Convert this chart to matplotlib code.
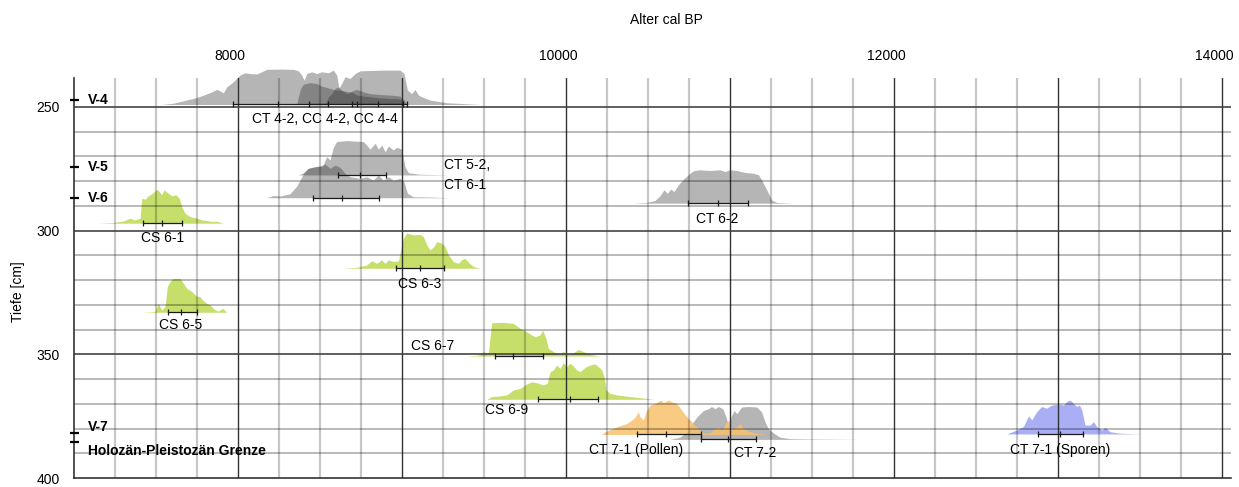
import numpy as np
import matplotlib
matplotlib.use("Agg")
import matplotlib.pyplot as plt
from matplotlib.transforms import ScaledTranslation

plt.rcParams['font.family'] = ['Liberation Sans', 'DejaVu Sans']

# ---- data: calibrated age distributions (age cal BP, relative height in cm) ----
ct42_age = [7535, 7606, 7667, 7748, 7799, 7840, 7870, 7890, 7911, 7931, 7972, 8012, 8043, 8073,
            8114, 8144, 8175, 8256, 8337, 8368, 8388, 8403, 8419, 8449, 8480, 8510, 8551, 8581,
            8602, 8616, 8632, 8653, 8683, 8714, 8744, 8886, 8988, 9012, 9033, 9059, 9079, 9100,
            9130, 9171, 9273, 9476]
ct42_h = [0, 0.5, 1.5, 2.8, 4.0, 5.1, 6.1, 5.5, 4.7, 7.1, 9.2, 11.9, 12.8, 12.5,
          12.3, 13.2, 14.2, 14.3, 14.2, 13.6, 11.9, 9.8, 12.5, 13.2, 12.5, 13.2, 12.8, 13.9,
          11.9, 6.5, 8.5, 11.2, 10.5, 12.5, 13.6, 13.9, 13.9, 12.5, 5.8, 4.4, 6.1, 3.8,
          2.8, 1.8, 0.7, 0]
cc42_age = [8358, 8368, 8382, 8399, 8439, 8480, 8510, 8541, 8581, 8642, 8683, 8724, 8764, 8805,
            8866, 8927, 8988, 9012, 9029]
cc42_h = [0, 3.1, 6.5, 8.2, 8.8, 8.5, 7.4, 6.9, 6.1, 5.5, 5.1, 6.1, 5.1, 4.4,
          4.0, 3.8, 3.4, 2.0, 0]
cc44_age = [8531, 8551, 8571, 8592, 8612, 8632, 8663, 8693, 8724, 8764, 8846, 8927, 8998, 9018]
cc44_h = [0, 3.1, 4.4, 6.5, 7.1, 5.8, 4.4, 5.1, 3.8, 3.4, 2.8, 2.4, 2.2, 0]

ct52_age = [8368, 8399, 8429, 8470, 8516, 8541, 8561, 8581, 8602, 8663, 8764, 8785, 8805, 8836,
            8856, 8876, 8897, 8917, 8947, 8968, 8998, 9018, 9039, 9110, 9293]
ct52_h = [0, 0.9, 2.7, 3.4, 3.6, 7.4, 6.1, 11.2, 13.5, 13.9, 13.5, 12.1, 10.4, 12.8,
          10.4, 12.1, 9.4, 11.7, 10.1, 11.2, 10.4, 3.4, 0.9, 0.3, 0]
ct61_age = [8175, 8216, 8256, 8317, 8358, 8378, 8399, 8429, 8459, 8500, 8531, 8561, 8592, 8622,
            8653, 8683, 8744, 8785, 8825, 8856, 8886, 8917, 8947, 8988, 9012, 9033, 9069, 9171, 9293]
ct61_h = [0, 0.9, 0.7, 1.6, 4.7, 7.1, 9.8, 11.9, 12.3, 12.8, 13.6, 11.9, 13.2, 12.3,
          9.8, 8.5, 7.8, 8.5, 7.1, 9.2, 7.1, 8.5, 7.1, 7.8, 6.5, 1.8, 0.4, 0.3, 0]

ct62_age = [10411, 10492, 10543, 10573, 10598, 10618, 10638, 10659, 10685, 10716, 10746, 10777,
            10817, 10878, 10939, 10970, 11000, 11041, 11092, 11143, 11173, 11193, 11224, 11254,
            11285, 11387]
ct62_h = [0, 0.3, 1.1, 3.0, 5.4, 4.0, 5.7, 4.7, 7.4, 9.7, 11.5, 13.1,
          13.5, 13.2, 13.5, 12.8, 13.5, 13.2, 12.4, 12.1, 11.5, 9.4, 5.4, 1.3,
          0.3, 0]

cs61_age = [7148, 7240, 7301, 7341, 7372, 7403, 7413, 7433, 7453, 7474, 7490, 7504, 7520, 7535,
            7549, 7569, 7596, 7622, 7642, 7657, 7677, 7707, 7748, 7779, 7809, 7840, 7870, 7911]
cs61_h = [0, 0.3, 0.9, 2.0, 1.3, 2.0, 10.1, 9.7, 11.1, 11.9, 12.8, 13.7, 12.8, 11.5,
          13.5, 12.4, 11.1, 11.5, 10.1, 6.7, 4.0, 2.7, 2.0, 1.3, 1.1, 0.7, 0.8, 0]
cs63_age = [8643, 8724, 8785, 8815, 8846, 8876, 8897, 8917, 8947, 8978, 8992, 9008, 9029, 9069,
            9110, 9130, 9151, 9171, 9195, 9212, 9242, 9262, 9283, 9313, 9344, 9364, 9384, 9405,
            9435, 9476]
cs63_h = [0, 0.4, 1.3, 3.0, 2.0, 3.4, 2.0, 3.4, 2.7, 3.0, 7.4, 12.1, 14.2, 13.5,
          13.7, 12.8, 9.4, 7.4, 8.8, 10.8, 10.1, 8.8, 5.4, 2.7, 2.0, 3.4, 4.0, 2.4,
          0.7, 0]
cs65_age = [7413, 7494, 7514, 7535, 7555, 7569, 7585, 7606, 7630, 7646, 7667, 7687, 7718, 7744,
            7768, 7789, 7809, 7829, 7854, 7880, 7907, 7931]
cs65_h = [0, 0.3, 3.6, 0.9, 2.3, 10.4, 12.4, 13.7, 13.7, 13.7, 11.7, 9.7, 8.4, 6.6,
          6.3, 4.7, 3.6, 3.0, 1.2, 0.5, 1.6, 0]
cs67_age = [9394, 9466, 9496, 9527, 9537, 9547, 9618, 9679, 9720, 9760, 9791, 9811, 9841, 9858,
            9878, 9892, 9923, 9953, 9984, 10014, 10045, 10075, 10106, 10147, 10208]
cs67_h = [0, 0.4, 1.8, 1.1, 7.8, 13.5, 13.6, 13.2, 11.2, 9.8, 8.5, 7.8, 8.5, 10.5,
          7.1, 3.1, 1.8, 0.8, 1.8, 0.8, 1.3, 2.7, 1.8, 0.7, 0]
cs69_age = [9516, 9547, 9588, 9638, 9679, 9720, 9760, 9791, 9821, 9862, 9886, 9903, 9923, 9943,
            9963, 9984, 10004, 10024, 10045, 10065, 10086, 10116, 10147, 10177, 10197, 10218,
            10232, 10244, 10268, 10309, 10370, 10431, 10492, 10533]
cs69_h = [0, 1.1, 1.3, 1.8, 3.8, 4.4, 6.2, 7.1, 6.7, 5.8, 6.5, 11.2, 11.9, 13.9,
          12.5, 14.8, 13.2, 14.6, 13.5, 11.9, 11.2, 12.9, 13.9, 14.3, 13.2, 11.9,
          9.2, 3.8, 2.4, 1.8, 1.3, 0.8, 0.4, 0]

ct71p_age = [10218, 10238, 10269, 10309, 10340, 10370, 10401, 10421, 10441, 10452, 10472, 10492,
             10513, 10543, 10578, 10594, 10624, 10645, 10675, 10706, 10736, 10767, 10797, 10827,
             10848, 10878, 10909, 10929, 10949, 10980, 10996, 11010, 11041, 11061, 11082, 11122,
             11163, 11214]
ct71p_h = [0, 1.1, 2.0, 3.1, 3.8, 4.4, 5.8, 6.9, 9.2, 7.1, 5.8, 9.8,
           11.9, 12.5, 13.9, 12.8, 13.9, 13.2, 12.5, 9.8, 7.1, 5.1, 3.1, 1.1,
           0.4, 0.7, 2.4, 3.1, 1.8, 5.1, 5.8, 2.4, 3.1, 4.4, 2.4, 1.1,
           0.4, 0]
ct72_age = [10634, 10695, 10746, 10767, 10797, 10838, 10868, 10888, 10909, 10929, 10956, 10976,
            10990, 11010, 11025, 11041, 11071, 11112, 11163, 11193, 11214, 11234, 11265, 11305,
            11366, 11468, 11570, 11800]
ct72_h = [0, 0.9, 3.6, 6.3, 9.0, 11.7, 12.4, 13.3, 12.4, 13.3, 12.4, 9.0,
          5.7, 9.7, 11.7, 10.4, 13.1, 13.3, 13.1, 11.1, 7.0, 4.3, 2.6, 0.9,
          0.3, 0.2, 0.15, 0]
ct71s_age = [12687, 12748, 12789, 12820, 12840, 12870, 12901, 12931, 12962, 13003, 13033, 13053,
             13074, 13094, 13114, 13131, 13145, 13165, 13196, 13216, 13236, 13267, 13287, 13318,
             13379, 13500]
ct71s_h = [0, 1.6, 3.0, 7.3, 5.7, 9.0, 11.1, 10.4, 11.7, 12.1, 11.7, 13.1,
           13.7, 12.4, 11.1, 11.7, 9.7, 3.6, 3.6, 5.0, 3.0, 1.6, 2.7, 0.9,
           0.3, 0]

# baselines (depth cm) of the distributions
base_v4 = 249.0
base_ct52 = 277.5
base_ct61 = 286.7
base_ct62 = 288.9
base_cs61 = 297.0
base_cs63 = 315.2
base_cs65 = 333.0
base_cs67 = 350.7
base_cs69 = 368.2
base_ct71p = 382.4
base_ct72 = 384.4
base_ct71s = 382.2

# 2-sigma ranges: (start, median, end, depth)
ranges = [
    (7971, 8242, 8551, base_v4),
    (8433, 8724, 9029, base_v4),
    (8693, 8856, 9008, base_v4),
    (8612, 8744, 8903, base_ct52),
    (8455, 8632, 8862, base_ct61),
    (10746, 10929, 11108, base_ct62),
    (7423, 7539, 7657, base_cs61),
    (8962, 9112, 9258, base_cs63),
    (7575, 7655, 7752, base_cs65),
    (9567, 9679, 9858, base_cs67),
    (9827, 10025, 10197, base_cs69),
    (10431, 10610, 10823, base_ct71p),
    (10823, 10986, 11157, base_ct72),
    (12880, 13013, 13151, base_ct71s),
]

# sample labels (text, age, depth, alignment)
labels = [
    ("CT 4-2, CC 4-2, CC 4-4", 8531, 255.0, "center"),
    ("CT 5-2,", 9256, 273.5, "left"),
    ("CT 6-1", 9256, 281.5, "left"),
    ("CS 6-1", 7537, 303.1, "center"),
    ("CT 6-2", 10919, 295.4, "center"),
    ("CS 6-3", 9110, 321.7, "center"),
    ("CS 6-5", 7651, 338.2, "center"),
    ("CS 6-7", 9186, 346.6, "center"),
    ("CS 6-9", 9640, 372.5, "center"),
    ("CT 7-1 (Pollen)", 10427, 388.7, "center"),
    ("CT 7-2", 11153, 389.9, "center"),
    ("CT 7-1 (Sporen)", 13013, 388.7, "center"),
]

# unit markers on the left (text, text depth, mark depth)
units = [
    ("V-4", 247.2, 247.2),
    ("V-5", 274.3, 274.3),
    ("V-6", 286.8, 286.8),
    ("V-7", 379.4, 381.7),
    ("Holozän-Pleistozän Grenze", 389.0, 385.3),
]

x_ticks = [8000, 10000, 12000, 14000]
y_ticks = [250, 300, 350, 400]

GRAY = "#282828"
GREEN = "#c6df6b"
ORANGE = "#f8c16c"
BLUE = "#a9aef5"

fig = plt.figure(figsize=(12.39, 4.87), dpi=100)
ax = fig.add_axes([74 / 1239, 9 / 487, 1157 / 1239, 400 / 487])
ax.set_xlim(7000, 14055)
ax.set_ylim(400, 238.3)


def draw_dist(ages, h, base, color, alpha):
    top = base - np.array(h)
    ax.fill_between(ages, base, top, color=color, alpha=alpha, lw=0,
                    clip_on=False, zorder=1)


# grid
for a in range(7250, 14001, 250):
    if a % 1000 == 0:
        ax.axvline(a, color="#333333", lw=1.0, zorder=2)
    else:
        ax.axvline(a, color=(0, 0, 0, 0.22), lw=1.6, zorder=2)
for d in range(250, 400, 10):
    if d % 50 == 0:
        ax.axhline(d, color="#444444", lw=1.2, zorder=2)
    else:
        ax.axhline(d, color=(0, 0, 0, 0.28), lw=1.4, zorder=2)

# distributions
draw_dist(ct42_age, ct42_h, base_v4, GRAY, 0.34)
draw_dist(cc42_age, cc42_h, base_v4, GRAY, 0.34)
draw_dist(cc44_age, cc44_h, base_v4, GRAY, 0.34)
draw_dist(ct52_age, ct52_h, base_ct52, GRAY, 0.34)
draw_dist(ct61_age, ct61_h, base_ct61, GRAY, 0.34)
draw_dist(ct62_age, ct62_h, base_ct62, GRAY, 0.34)
draw_dist(cs61_age, cs61_h, base_cs61, GREEN, 1.0)
draw_dist(cs63_age, cs63_h, base_cs63, GREEN, 1.0)
draw_dist(cs65_age, cs65_h, base_cs65, GREEN, 1.0)
draw_dist(cs67_age, cs67_h, base_cs67, GREEN, 1.0)
draw_dist(cs69_age, cs69_h, base_cs69, GREEN, 1.0)
draw_dist(ct72_age, ct72_h, base_ct72, GRAY, 0.34)
draw_dist(ct71p_age, ct71p_h, base_ct71p, ORANGE, 0.85)
draw_dist(ct71s_age, ct71s_h, base_ct71s, BLUE, 1.0)

# ranges
for lo, mid, hi, d in ranges:
    ax.plot([lo, hi], [d, d], color="#1a1a1a", lw=0.9, zorder=4)
    ax.plot([lo, mid, hi], [d, d, d], ls="none", marker="|", ms=4, mew=0.9,
            color="#1a1a1a", zorder=4)

for txt, a, d, ha in labels:
    ax.text(a, d, txt, ha=ha, va="center", fontsize=10, zorder=5)

for txt, d_txt, d_mark in units:
    ax.plot([6975, 7028], [d_mark, d_mark], color="black", lw=1.6,
            clip_on=False, zorder=5, solid_capstyle="butt")
    ax.text(7085, d_txt, txt, ha="left", va="center", fontsize=10,
            fontweight="bold", zorder=5)

# axes
for s in ["top", "right"]:
    ax.spines[s].set_visible(False)
ax.spines["left"].set_color("#333333")
ax.spines["left"].set_linewidth(1.2)
ax.spines["bottom"].set_color("#333333")
ax.spines["bottom"].set_linewidth(1.2)

ax.xaxis.tick_top()
ax.set_xticks(x_ticks)
ax.set_xticklabels([str(t) for t in x_ticks])
ax.set_yticks(y_ticks)
ax.set_yticklabels([str(t) for t in y_ticks])
ax.tick_params(axis="x", length=0, pad=11, labelsize=10)
ax.tick_params(axis="y", length=0, pad=10, labelsize=10)
for lab in ax.get_xticklabels():
    lab.set_transform(lab.get_transform() + ScaledTranslation(-0.08, 0, fig.dpi_scale_trans))

fig.text(666 / 1239, 1 - 20 / 487, "Alter cal BP", ha="center", va="center", fontsize=10)
fig.text(18 / 1239, 1 - 292 / 487, "Tiefe [cm]", ha="center", va="center",
         rotation=90, fontsize=10)

fig.savefig("out.png", dpi=100)
